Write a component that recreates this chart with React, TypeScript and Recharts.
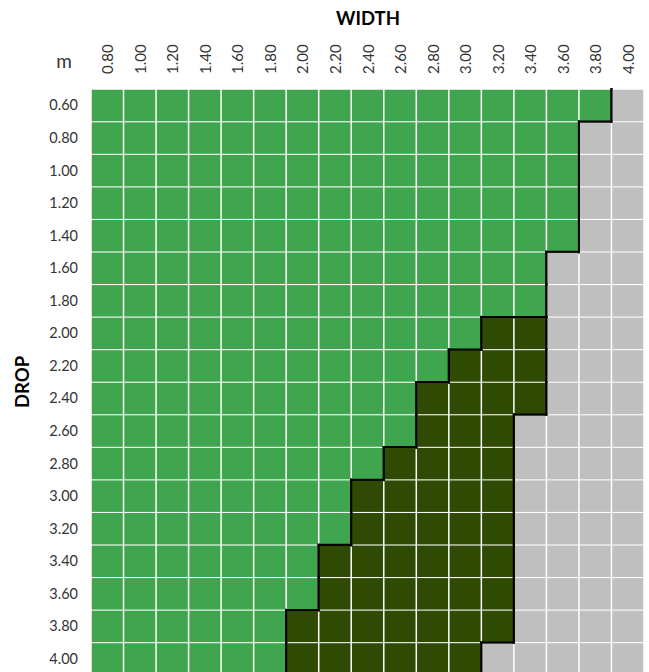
import React from 'react';
import { BarChart, Bar, XAxis, YAxis } from 'recharts';

// Column categories (WIDTH, m)
const widths = [0.8, 1.0, 1.2, 1.4, 1.6, 1.8, 2.0, 2.2, 2.4, 2.6, 2.8, 3.0, 3.2, 3.4, 3.6, 3.8, 4.0];
// Row categories (DROP, m)
const drops = [0.6, 0.8, 1.0, 1.2, 1.4, 1.6, 1.8, 2.0, 2.2, 2.4, 2.6, 2.8, 3.0, 3.2, 3.4, 3.6, 3.8, 4.0];
// Largest width shown in light green for each drop
const greenLimit = [3.8, 3.6, 3.6, 3.6, 3.6, 3.4, 3.4, 3.0, 2.8, 2.6, 2.6, 2.4, 2.2, 2.2, 2.0, 2.0, 1.8, 1.8];
// Largest available width (green or dark green) for each drop
const availableLimit = [3.8, 3.6, 3.6, 3.6, 3.6, 3.4, 3.4, 3.4, 3.4, 3.4, 3.2, 3.2, 3.2, 3.2, 3.2, 3.2, 3.2, 3.0];

const COLORS: Record<string, string> = { green: '#3FA64F', dark: '#2E4A03', gray: '#BFBFBF' };
const FONT = 'Lato, "Open Sans", sans-serif';

const status = (r: number, c: number): string => {
  const w = widths[c];
  if (w <= greenLimit[r] + 1e-9) return 'green';
  if (w <= availableLimit[r] + 1e-9) return 'dark';
  return 'gray';
};

const data = drops.map((d, r) => {
  const row: any = { drop: d, r };
  widths.forEach((_, c) => {
    row[`c${c}`] = 1;
  });
  return row;
});

const makeShape = (c: number) => (props: any) => {
  const { x, y, width, height, payload, index } = props;
  const r = payload && payload.r !== undefined ? payload.r : index;
  const s = status(r, c);
  const g = 0.75;
  const L = x, R = x + width, T = y, B = y + height;
  const lines: number[][] = [];
  if (r > 0 && status(r - 1, c) !== s) lines.push([L, T, R, T]);
  if (r < drops.length - 1 && status(r + 1, c) !== s) lines.push([L, B, R, B]);
  if (c > 0 && status(r, c - 1) !== s) lines.push([L, T, L, B]);
  if (c < widths.length - 1 && status(r, c + 1) !== s) lines.push([R, T, R, B]);
  return (
    <g>
      <rect x={x + g} y={y + g} width={Math.max(0, width - 2 * g)} height={Math.max(0, height - 2 * g)} fill={COLORS[s]} />
      {lines.map((l, i) => (
        <line key={i} x1={l[0]} y1={l[1]} x2={l[2]} y2={l[3]} stroke="#000" strokeWidth={2} strokeLinecap="square" />
      ))}
    </g>
  );
};

const TopTick = (props: any) => {
  const { x, y, payload } = props;
  const idx = Math.floor(payload.value);
  return (
    <text
      x={x}
      y={y}
      transform={`rotate(-90 ${x} ${y})`}
      textAnchor="start"
      dominantBaseline="central"
      fill="#333"
      fontFamily={FONT}
      fontSize={15}
    >
      {widths[idx].toFixed(2)}
    </text>
  );
};

export default function App() {
  return (
    <div style={{ position: 'absolute', top: 0, left: 0, width: 649, height: 672, overflow: 'hidden', background: '#fff' }}>
      <BarChart
        width={649}
        height={680}
        data={data}
        layout="vertical"
        barCategoryGap={0}
        margin={{ top: 0, right: 5, bottom: 5, left: 0 }}
      >
        <XAxis
          type="number"
          orientation="top"
          domain={[0, widths.length]}
          allowDataOverflow
          ticks={widths.map((_, i) => i + 0.5)}
          height={89}
          axisLine={false}
          tickLine={false}
          tickSize={0}
          tickMargin={15}
          tick={<TopTick />}
          interval={0}
        />
        <YAxis
          type="category"
          dataKey="drop"
          width={91}
          axisLine={false}
          tickLine={false}
          tickSize={0}
          tickMargin={13}
          interval={0}
          tickFormatter={(v: number) => v.toFixed(2)}
          tick={{ fill: '#333', fontFamily: FONT, fontSize: 14.5 }}
        />
        {widths.map((_, c) => (
          <Bar key={c} dataKey={`c${c}`} stackId="a" isAnimationActive={false} shape={makeShape(c)} />
        ))}
      </BarChart>
      <div style={{ position: 'absolute', left: 268, top: 6, width: 200, height: 24, lineHeight: '24px', textAlign: 'center', fontFamily: FONT, fontWeight: 'bold', fontSize: 18.5, color: '#000' }}>
        WIDTH
      </div>
      <div style={{ position: 'absolute', left: -78, top: 370, width: 200, height: 24, lineHeight: '24px', textAlign: 'center', fontFamily: FONT, fontWeight: 'bold', fontSize: 18.5, color: '#000', transform: 'rotate(-90deg)' }}>
        DROP
      </div>
      <div style={{ position: 'absolute', left: 44, top: 48, width: 40, height: 26, lineHeight: '26px', textAlign: 'center', fontFamily: FONT, fontSize: 19, color: '#333' }}>
        m
      </div>
    </div>
  );
}
